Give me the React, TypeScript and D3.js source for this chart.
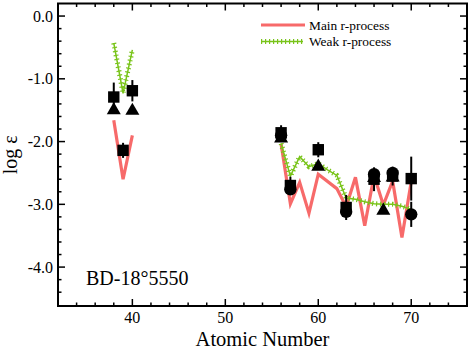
import React, { useRef, useEffect } from 'react';
import * as d3 from 'd3';

// observed abundances (Z, log eps, error)
const squareZ = [38, 39, 40, 56, 57, 60, 63, 66, 68, 70];
const squareVal = [-1.29, -2.14, -1.19, -1.86, -2.70, -2.13, -3.05, -2.60, -2.55, -2.59];
const squareErr = [0.23, 0.12, 0.17, 0.12, 0.14, 0.12, 0.2, 0.19, 0.15, 0.35];

const circleZ = [56, 57, 63, 66, 68, 70];
const circleVal = [-1.90, -2.76, -3.12, -2.52, -2.50, -3.16];
const circleErr = [0, 0, 0, 0, 0, 0.2];

const triangleZ = [38, 40, 56, 60, 66, 67, 68];
const triangleVal = [-1.50, -1.51, -1.95, -2.40, -2.58, -3.10, -2.57];

// r-process patterns (two separate pieces each)
const mainZ1 = [38, 39, 40];
const mainVal1 = [-1.66, -2.60, -1.90];
const mainZ2 = [56, 57, 58, 59, 60, 62, 63, 64, 65, 66, 67, 68, 69, 70];
const mainVal2 = [-2.04, -2.99, -2.65, -3.14, -2.52, -2.75, -3.04, -2.57, -3.34, -2.54, -3.01, -2.63, -3.53, -2.64];

const weakZ1 = [38, 39, 40];
const weakVal1 = [-0.43, -1.23, -0.54];
const weakZ2 = [56, 57, 58, 59, 60, 61, 62, 63, 64, 65, 66, 67, 68, 69, 70];
const weakVal2 = [-2.03, -2.55, -2.24, -2.40, -2.35, -2.45, -2.54, -2.90, -2.92, -2.96, -2.99, -3.0, -3.0, -3.03, -3.08];

const yTicks = [0, -1, -2, -3, -4];
const xTicks = [40, 50, 60, 70];

const W = 471, H = 354;
const L = 58, R = 467, T = 3.5, B = 306;
const RED = '#f76a6a';
const GREEN = '#79c41a';
const FONT = 'Liberation Serif, DejaVu Serif, serif';

function App() {
  const svgRef = useRef(null);

  useEffect(() => {
    const svg = d3.select(svgRef.current);
    svg.selectAll('*').remove();

    const x = d3.scaleLinear().domain([32, 76]).range([L, R]);
    const y = d3.scaleLinear().domain([0.2, -4.62]).range([T, B]);

    const line = d3.line<[number, number]>().x(d => x(d[0])).y(d => y(d[1]));
    const zip = (a: number[], b: number[]) => a.map((v, i) => [v, b[i]] as [number, number]);

    // red main r-process
    [zip(mainZ1, mainVal1), zip(mainZ2, mainVal2)].forEach(pts => {
      svg.append('path').attr('d', line(pts)).attr('fill', 'none')
        .attr('stroke', RED).attr('stroke-width', 3.2).attr('stroke-linejoin', 'miter');
    });

    // green weak r-process with cross marks
    const drawWeak = (sel, d) => {
      sel.append('path').attr('d', d).attr('fill', 'none')
        .attr('stroke', GREEN).attr('stroke-width', 1.5);
      sel.append('path').attr('d', d).attr('fill', 'none')
        .attr('stroke', GREEN).attr('stroke-width', 5).attr('stroke-dasharray', '1.2 2.8');
    };
    [zip(weakZ1, weakVal1), zip(weakZ2, weakVal2)].forEach(pts => drawWeak(svg, line(pts)));

    // error bars
    const bars = svg.append('g').attr('stroke', '#000').attr('stroke-width', 2);
    const addBars = (zs, vs, es) => zs.forEach((z, i) => {
      if (!es[i]) return;
      bars.append('line').attr('x1', x(z)).attr('x2', x(z))
        .attr('y1', y(vs[i] + es[i])).attr('y2', y(vs[i] - es[i]));
    });
    addBars(squareZ, squareVal, squareErr);
    addBars(circleZ, circleVal, circleErr);

    // markers
    const sym = (type, size, zs, vs) => {
      svg.append('g').selectAll('path').data(zs).join('path')
        .attr('d', d3.symbol().type(type).size(size)())
        .attr('transform', (z, i) => `translate(${x(z)},${y(vs[i])})`)
        .attr('fill', '#000');
    };
    sym(d3.symbolTriangle, 85, triangleZ, triangleVal);
    sym(d3.symbolSquare, 130, squareZ, squareVal);
    sym(d3.symbolCircle, 120, circleZ, circleVal);

    // frame
    svg.append('rect').attr('x', L).attr('y', T).attr('width', R - L).attr('height', B - T)
      .attr('fill', 'none').attr('stroke', '#000').attr('stroke-width', 2);

    // ticks
    const tk = svg.append('g').attr('stroke', '#000').attr('stroke-width', 1.5);
    d3.range(34, 76, 2).forEach(v => {
      const len = v % 10 === 0 ? 7 : 3.5;
      tk.append('line').attr('x1', x(v)).attr('x2', x(v)).attr('y1', B).attr('y2', B - len);
      tk.append('line').attr('x1', x(v)).attr('x2', x(v)).attr('y1', T).attr('y2', T + len);
    });
    d3.range(0, 23).map(i => 0 - i * 0.2).filter(v => v > -4.62).forEach(v => {
      const len = Math.abs(v - Math.round(v)) < 1e-6 ? 7 : 3.5;
      tk.append('line').attr('x1', L).attr('x2', L + len).attr('y1', y(v)).attr('y2', y(v));
      tk.append('line').attr('x1', R).attr('x2', R - len).attr('y1', y(v)).attr('y2', y(v));
    });

    const txt = (sel) => sel.style('font-family', FONT).attr('fill', '#000');

    // tick labels
    svg.append('g').selectAll('text').data(xTicks).join('text')
      .attr('x', d => x(d)).attr('y', 323).attr('text-anchor', 'middle')
      .attr('font-size', 16).call(txt).text(d => d);
    svg.append('g').selectAll('text').data(yTicks).join('text')
      .attr('x', 53).attr('y', d => y(d) + 5.5).attr('text-anchor', 'end')
      .attr('font-size', 16).call(txt).text(d => d3.format('.1f')(d).replace('−', '-'));

    // axis titles
    svg.append('text').attr('x', (L + R) / 2).attr('y', 346).attr('text-anchor', 'middle')
      .attr('font-size', 20.5).call(txt).text('Atomic Number');
    svg.append('text').attr('transform', `translate(17,${(T + B) / 2}) rotate(-90)`)
      .attr('text-anchor', 'middle').attr('font-size', 20).call(txt)
      .text('log \u03B5');

    // star name
    svg.append('text').attr('x', 86).attr('y', 285)
      .attr('font-size', 20).call(txt).text('BD-18\u00B05550');

    // legend
    svg.append('line').attr('x1', 261).attr('x2', 305).attr('y1', 25).attr('y2', 25)
      .attr('stroke', RED).attr('stroke-width', 3.2);
    drawWeak(svg, `M261,41.5L303,41.5`);
    svg.append('text').attr('x', 309).attr('y', 29.5)
      .attr('font-size', 13.4).call(txt).text('Main r-process');
    svg.append('text').attr('x', 309).attr('y', 46)
      .attr('font-size', 13.4).call(txt).text('Weak r-process');
  }, []);

  return (
    <div style={{ position: 'fixed', left: 0, top: 0 }}>
      <svg ref={svgRef} width={W} height={H} style={{ display: 'block', background: '#fff' }} />
    </div>
  );
}

export default App;
